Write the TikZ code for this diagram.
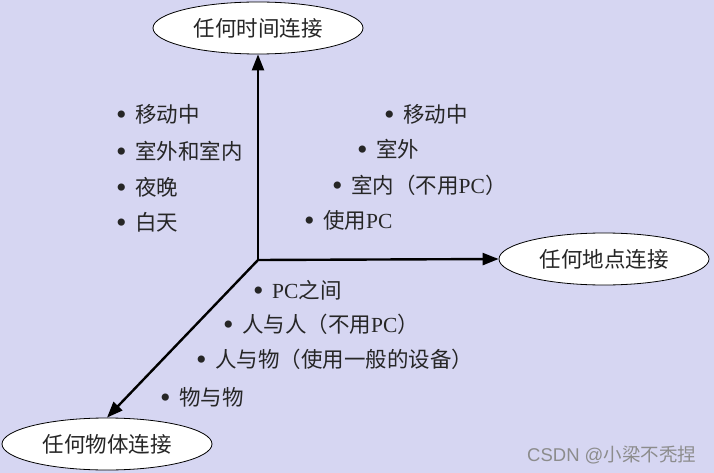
\documentclass[tikz,border=0pt]{standalone}
\usepackage{fontspec}
\setmainfont{Noto Sans CJK SC}
\newfontfamily\latin{Liberation Serif}
\newfontfamily\marksans{Liberation Sans}
\usetikzlibrary{arrows.meta, shapes.geometric, positioning}
\definecolor{bgpurple}{RGB}{214,214,242}
\tikzset{
  goal/.style={
    ellipse, draw=black, line width=0.8pt, fill=white,
    minimum width=210pt, minimum height=52pt, inner sep=0pt,
    font=\fontsize{21.5}{25}\selectfont, text=black!85
  },
  axis/.style={-{Triangle[length=16pt,width=12pt]}, line width=2.4pt, draw=black},
  item/.style={anchor=west, inner sep=0pt, font=\fontsize{21.5}{25}\selectfont, text=black!85},
  credit/.style={inner sep=0pt, font=\fontsize{18.5}{22}\selectfont, text=gray!90}
}
\newcommand{\itembul}{\raisebox{-2pt}{\latin\fontsize{30}{30}\selectfont\char"2022}\hspace{8.5pt}}

\begin{document}
\begin{tikzpicture}[x=1pt, y=-1pt]
  \fill[bgpurple] (0,0) rectangle (714,473);
  \useasboundingbox (0,0) rectangle (714,473);

  \coordinate (o) at (258,260);
  \node[goal] (time) at (258,28) {任何时间连接};
  \node[goal] (place) at (604,259) {任何地点连接};
  \node[goal] (thing) at (107,444) {任何物体连接};

  \draw[axis] (o) -- (time.south);
  \draw[axis] (o) -- (place.west);
  \draw[axis] (o) -- (thing.north);

  \node[item] (t1) at (116,114) {\itembul 移动中};
  \node[item] (t2) at (116,151) {\itembul 室外和室内};
  \node[item] (t3) at (116,187) {\itembul 夜晚};
  \node[item] (t4) at (116,222) {\itembul 白天};

  \node[item] (p1) at (384,114) {\itembul 移动中};
  \node[item] (p2) at (357,149) {\itembul 室外};
  \node[item] (p3) at (332,185) {\itembul 室内（不用{\latin PC}）};
  \node[item] (p4) at (304,220) {\itembul 使用{\latin PC}};

  \node[item] (h1) at (253,290) {\itembul {\latin PC}之间};
  \node[item] (h2) at (223,324) {\itembul 人与人（不用{\latin PC}）};
  \node[item] (h3) at (196,359) {\itembul 人与物（使用一般的设备）};
  \node[item] (h4) at (160,397) {\itembul 物与物};

  \node[credit, anchor=west] (csdn) at (527,455) {{\marksans CSDN @}小梁不秃捏};
\end{tikzpicture}
\end{document}
